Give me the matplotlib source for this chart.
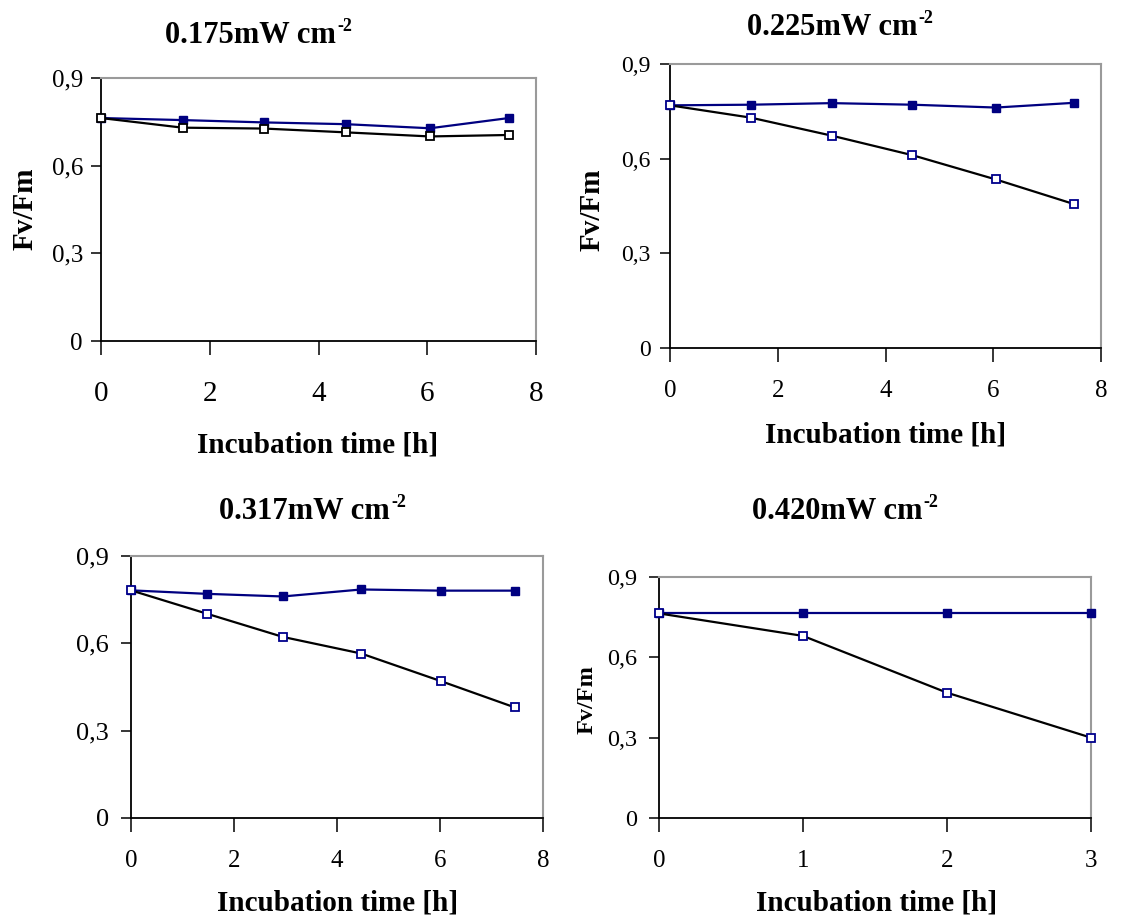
import matplotlib
matplotlib.use("Agg")
import matplotlib.pyplot as plt
from matplotlib.ticker import FixedLocator

plt.rcParams['font.family'] = ['Liberation Serif', 'DejaVu Serif']

# data
titles = ['0.175mW cm', '0.225mW cm', '0.317mW cm', '0.420mW cm']

time_a = [0, 1.5, 3, 4.5, 6.05, 7.5]
ctrl_a = [0.763, 0.756, 0.748, 0.742, 0.728, 0.763]
light_a = [0.763, 0.730, 0.727, 0.714, 0.700, 0.705]

time_b = [0, 1.5, 3, 4.5, 6.05, 7.5]
ctrl_b = [0.769, 0.771, 0.776, 0.771, 0.762, 0.777]
light_b = [0.769, 0.730, 0.673, 0.611, 0.534, 0.456]

time_c = [0, 1.47, 2.95, 4.47, 6.02, 7.45]
ctrl_c = [0.782, 0.770, 0.761, 0.785, 0.781, 0.781]
light_c = [0.782, 0.702, 0.622, 0.565, 0.470, 0.380]

time_d = [0, 1, 2, 3]
ctrl_d = [0.764, 0.764, 0.764, 0.764]
light_d = [0.764, 0.680, 0.468, 0.300]

y_ticks = [0, 0.3, 0.6, 0.9]
y_labels = ['0', '0,3', '0,6', '0,9']

W, H = 1126, 923
fig = plt.figure(figsize=(W / 100, H / 100), dpi=100)


def fx(px):
    return px / W


def fy(py):
    return 1 - py / H


# layout: axes box (left, top, right, bottom) in pixels, and text sizes
boxes = [(101, 78, 536, 341), (670, 64, 1101, 348),
         (131, 556, 543, 818), (659, 577, 1091, 818)]
xmax = [8, 8, 8, 3]
xstep = [2, 2, 2, 1]
xtick_fs = [21, 18, 18, 18]
ytick_fs = [18, 17, 19, 17.5]
xpad = [19, 13, 13, 13]
ypad = [6, 7, 9, 9]
title_pos = [(165, 43), (747, 35), (219, 519), (752, 519)]
xlab_pos = [(318, 453), (886, 443), (338, 911), (877, 911)]
ylab_pos = [(25, 209, 21), (592, 210, 21), None, (587, 700, 17.5)]
open_edge = ['black', '#00008B', '#00008B', '#00008B']

series = [(time_a, ctrl_a, light_a), (time_b, ctrl_b, light_b),
          (time_c, ctrl_c, light_c), (time_d, ctrl_d, light_d)]

navy = '#000080'
title_texts = []

for i, (t, ctrl, light) in enumerate(series):
    l, tp, r, b = boxes[i]
    ax = fig.add_axes([fx(l), fy(b), fx(r - l), (b - tp) / H])
    ax.plot(t, ctrl, color=navy, lw=1.6, marker='s', ms=6,
            mfc=navy, mec=navy, clip_on=False, zorder=3)
    ax.plot(t, light, color='black', lw=1.6, marker='s', ms=5.5,
            mfc='white', mec=open_edge[i], mew=1.3, clip_on=False, zorder=4)
    ax.set_xlim(0, xmax[i])
    ax.set_ylim(0, 0.9)
    ax.xaxis.set_major_locator(FixedLocator(list(range(0, xmax[i] + 1, xstep[i]))))
    ax.yaxis.set_major_locator(FixedLocator(y_ticks))
    ax.set_yticklabels(y_labels)
    ax.tick_params(axis='x', direction='out', length=10, width=1.1,
                   labelsize=xtick_fs[i], pad=xpad[i])
    ax.tick_params(axis='y', direction='out', length=7, width=1.1,
                   labelsize=ytick_fs[i], pad=ypad[i])
    for side in ['left', 'bottom']:
        ax.spines[side].set_color('black')
        ax.spines[side].set_linewidth(1.3)
    for side in ['top', 'right']:
        ax.spines[side].set_color('#9a9a9a')
        ax.spines[side].set_linewidth(1.5)

    tx, ty = title_pos[i]
    title_texts.append(fig.text(fx(tx), fy(ty), titles[i], fontsize=22,
                                fontweight='bold', ha='left', va='baseline'))
    lx, ly = xlab_pos[i]
    fig.text(fx(lx), fy(ly), 'Incubation time [h]', fontsize=21,
             fontweight='bold', ha='center', va='baseline')
    if ylab_pos[i] is not None:
        yx, yy, yfs = ylab_pos[i]
        fig.text(fx(yx), fy(yy), 'Fv/Fm', fontsize=yfs, fontweight='bold',
                 rotation=90, ha='center', va='center')

# superscript "-2" after each title
fig.canvas.draw()
renderer = fig.canvas.get_renderer()
for i, txt in enumerate(title_texts):
    bb = txt.get_window_extent(renderer)
    fig.text(bb.x1 / W + 0.001, fy(title_pos[i][1] - 12), '-2', fontsize=13,
             fontweight='bold', ha='left', va='baseline')

fig.savefig('out.png', dpi=100)
